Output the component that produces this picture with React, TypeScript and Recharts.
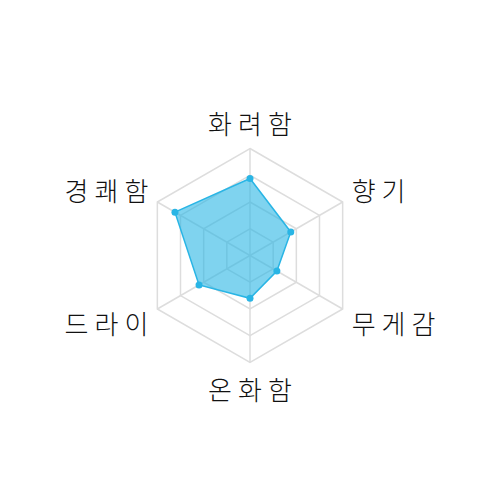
import React from 'react';
import { RadarChart, Radar, PolarGrid, PolarAngleAxis, PolarRadiusAxis } from 'recharts';

const categories = ['화려함', '향기', '무게감', '온화함', '드라이', '경쾌함'];
const values = [72, 44, 29, 40, 55, 81];
const data = categories.map((name, i) => ({ name, value: values[i] }));

const CX = 242;
const CY = 247.5;
const R = 107;
const COLOR = '#29b5e5';

const Tick = (props: any) => {
  const { x, y, payload } = props;
  const dx = x - CX;
  const dy = y - CY;
  const len = Math.sqrt(dx * dx + dy * dy) || 1;
  const ux = dx / len;
  const uy = dy / len;
  const vx = CX + ux * R;
  const vy = CY + uy * R;
  let anchor: 'start' | 'middle' | 'end' = 'middle';
  let tx = vx;
  if (ux > 0.01) { anchor = 'start'; tx = vx + 9; }
  else if (ux < -0.01) { anchor = 'end'; tx = vx - 3; }
  else { tx = vx + 3; }
  const ty = vy + uy * 26;
  return (
    <text x={tx} y={ty} textAnchor={anchor} dominantBaseline="central"
      fontSize={26} letterSpacing={6} fill="#111" fontFamily="'Noto Sans CJK KR', sans-serif" fontWeight={300}>
      {payload.value}
    </text>
  );
};

export default function App() {
  return (
    <RadarChart width={484} height={484} cx={CX} cy={CY} outerRadius={R} data={data}
      margin={{ top: 0, right: 0, bottom: 0, left: 0 }}>
      <PolarGrid stroke="#dddddd" strokeWidth={1.5} />
      <PolarAngleAxis dataKey="name" tick={<Tick />} tickLine={false} axisLine={false} />
      <PolarRadiusAxis domain={[0, 100]} tickCount={5} tick={false} axisLine={false} />
      <Radar dataKey="value" stroke={COLOR} strokeWidth={1.5} fill={COLOR} fillOpacity={0.6}
        dot={{ r: 3.5, fill: COLOR, stroke: COLOR, strokeWidth: 0, fillOpacity: 1 }} isAnimationActive={false} />
    </RadarChart>
  );
}
